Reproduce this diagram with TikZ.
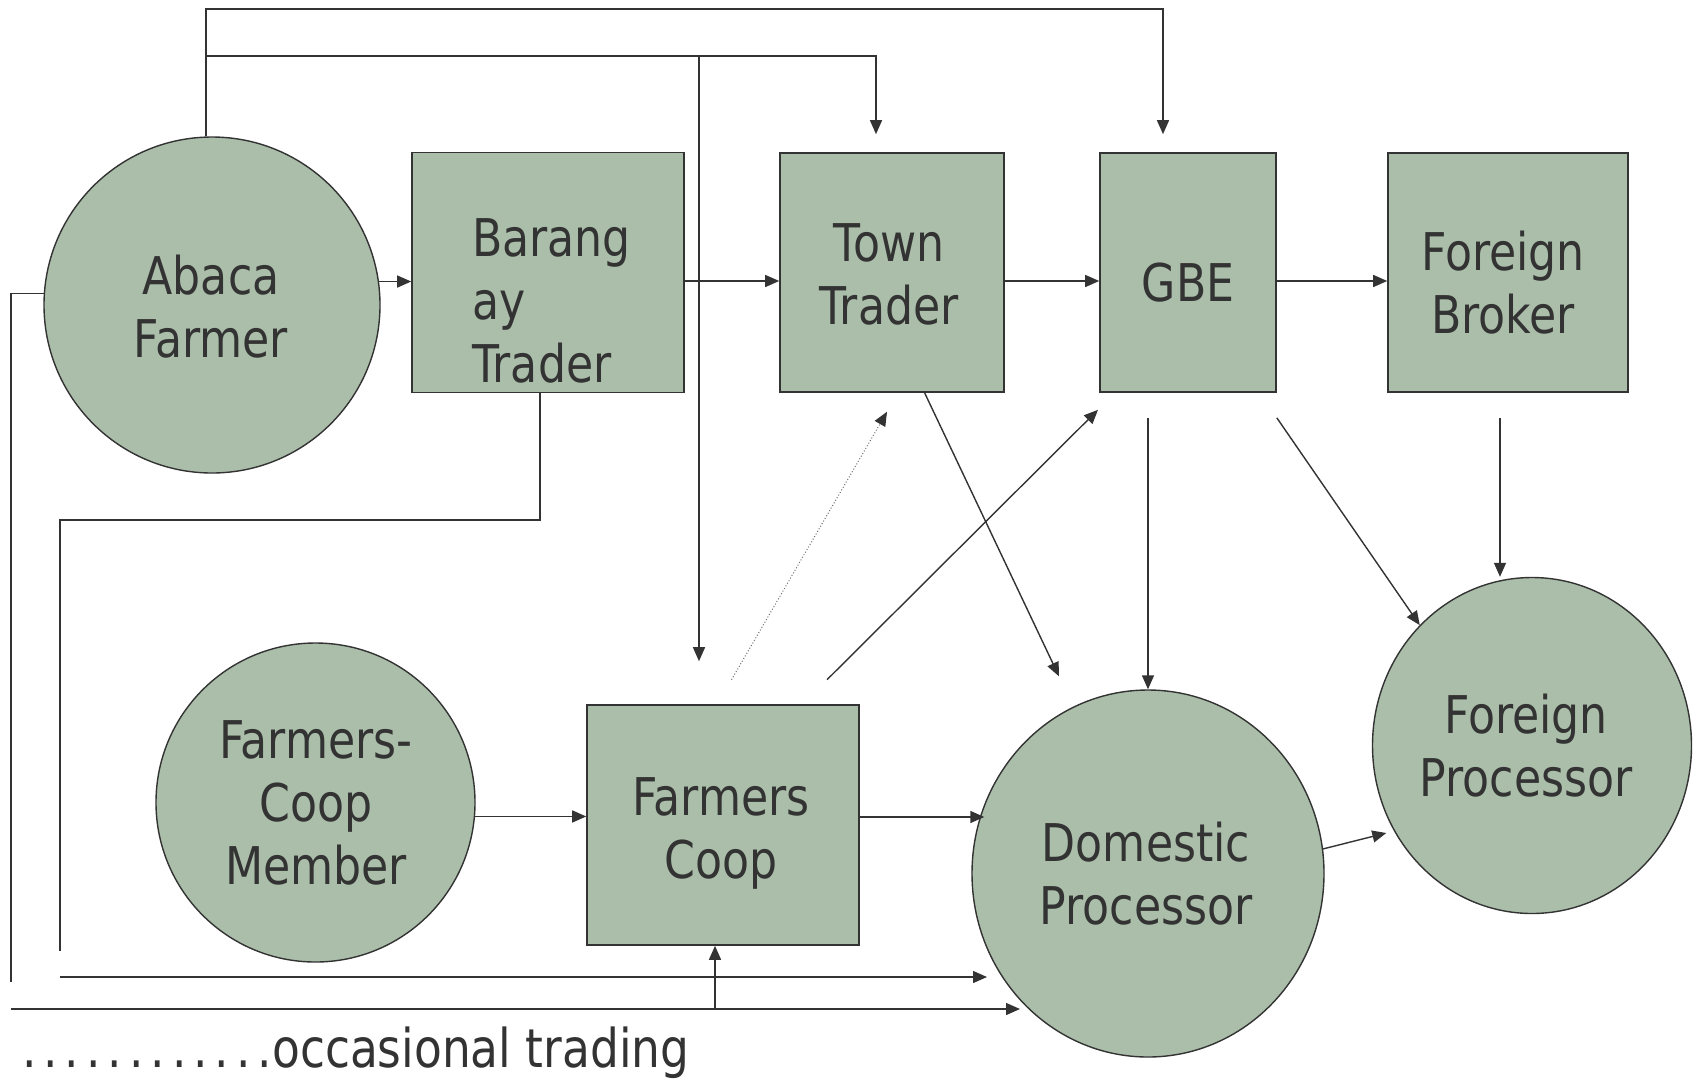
\documentclass[tikz,border=0pt]{standalone}
\usepackage{fontspec}
\setmainfont[FakeStretch=0.85]{DejaVu Sans}
\usetikzlibrary{arrows.meta,calc,shapes.geometric}
\definecolor{nodefill}{RGB}{170,190,170}
\definecolor{ink}{RGB}{51,51,51}
\begin{document}
\begin{tikzpicture}[x=1pt,y=-1pt,
  box/.style={draw=ink, line width=1.6pt, fill=nodefill, rectangle, inner sep=0pt},
  blob/.style={draw=ink, line width=1.4pt, fill=nodefill, ellipse, inner sep=0pt},
  lbl/.style={text=ink, font=\fontsize{52}{63}\selectfont, align=center, inner sep=0pt},
  arr/.style={draw=ink, line width=1.4pt, -{Triangle[length=14pt,width=12pt]}},
  ln/.style={draw=ink, line width=1.4pt},
  occ/.style={draw=ink!70, line width=1pt, dotted, -{Triangle[length=14pt,width=12pt,fill=ink,color=ink]}}]
\useasboundingbox[fill=white] (0,0) rectangle (1700,1080);

% shapes
\node[blob, minimum width=336pt, minimum height=336pt] (abaca) at (212,305) {};
\node[box, minimum width=272pt, minimum height=240pt] (barangay) at (548,272.5) {};
\node[box, minimum width=224pt, minimum height=239pt] (town) at (892,272.5) {};
\node[box, minimum width=176pt, minimum height=239pt] (gbe) at (1188,272.5) {};
\node[box, minimum width=240pt, minimum height=239pt] (broker) at (1508,272.5) {};
\node[blob, minimum width=319pt, minimum height=319pt] (member) at (315.5,802.5) {};
\node[box, minimum width=272pt, minimum height=240pt] (coop) at (723,825) {};
\node[blob, minimum width=352pt, minimum height=367pt] (domestic) at (1148,873.5) {};
\node[blob, minimum width=319pt, minimum height=336pt] (foreignp) at (1532,745.5) {};

% labels
\node[lbl] (abaca-t) at (211,306.75) {Abaca\\Farmer};
\node[lbl, align=left, anchor=west] (barangay-t) at (472,301) {Barang\\ay\\Trader};
\node[lbl] (town-t) at (889,274.5) {Town\\Trader};
\node[lbl] (gbe-t) at (1188,283) {GBE};
\node[lbl] (broker-t) at (1503,282.75) {Foreign\\Broker};
\node[lbl] (member-t) at (316,802.5) {Farmers-\\Coop\\Member};
\node[lbl] (coop-t) at (721,833) {Farmers\\Coop};
\node[lbl] (domestic-t) at (1146,873.75) {Domestic\\Processor};
\node[lbl] (foreignp-t) at (1526,745.75) {Foreign\\Processor};
\node[lbl, font=\fontsize{53.5}{63}\selectfont, anchor=base west] (note) at (22,1067) {{\addfontfeature{LetterSpace=13}............}occasional trading};

% helper coordinates
\coordinate (row) at (0,281);
\coordinate (mid) at (0,817);
\coordinate (top1) at (0,9);
\coordinate (top2) at (0,56);
\coordinate (gbeIn) at ($(gbe.north)+(-25,-18)$);
\coordinate (townIn) at ($(town.north)+(-16,-18)$);
\coordinate (coopIn) at ($(coop.north)+(-24,-43)$);
\coordinate (bA) at ($(barangay.south)+(-8,0)$);
\coordinate (bB) at (60,520);
\coordinate (bC) at (60,951);
\coordinate (bD) at (60,977);
\coordinate (dIn1) at (987,977);
\coordinate (aC) at (11,982);
\coordinate (aD) at (11,1009);
\coordinate (dIn2) at (1020,1009);
\coordinate (cUp) at ($(coop.south)+(-8,64)$);

% main row
\draw[arr] (abaca.8) -- (abaca.8 -| barangay.west);
\draw[arr] (barangay.east |- row) -- (town.west |- row);
\draw[arr] (town.east |- row) -- (gbe.west |- row);
\draw[arr] (gbe.east |- row) -- (broker.west |- row);

% top routes
\draw[arr] (abaca.92.7) |- (gbeIn |- top1) -- (gbeIn);
\draw[arr] (abaca.92.7 |- top2) -| (townIn);
\draw[arr] (coopIn |- top2) -- (coopIn);

% left routes
\draw[ln] (bA) |- (bB) -- (bC);
\draw[arr] (bD) -- (dIn1);
\draw[ln] (abaca.176.6) -| (aC);
\draw[arr] (aD) -- (dIn2);
\draw[arr] (cUp |- aD) -- ($(coop.south)+(-8,0)$);

% diagonals
\draw[occ] ($(coop.north)+(8.5,-24.5)$) -- ($(town.south)+(-5,19)$);
\draw[arr] ($(coop.north)+(104,-24.5)$) -- ($(gbe.south)+(-90,17)$);
\draw[arr] ($(town.south)+(32.6,0)$) -- ($(domestic.north)+(-89,-13)$);
\draw[arr] ($(gbe.south)+(-40,25)$) -- (domestic.north);
\draw[arr] ($(gbe.south east)+(0,25)$) -- (foreignp.133);
\draw[arr] ($(broker.south)+(-8,25)$) -- ($(broker.south)+(-8,184)$);

% bottom row
\draw[arr] (member.-5.2) -- (member.-5.2 -| coop.west);
\draw[arr] (coop.east |- mid) -- ($(domestic.west |- mid)+(13,0)$);
\draw[arr] (domestic.8) -- ($(foreignp.west)+(14.5,87.5)$);
\end{tikzpicture}
\end{document}
